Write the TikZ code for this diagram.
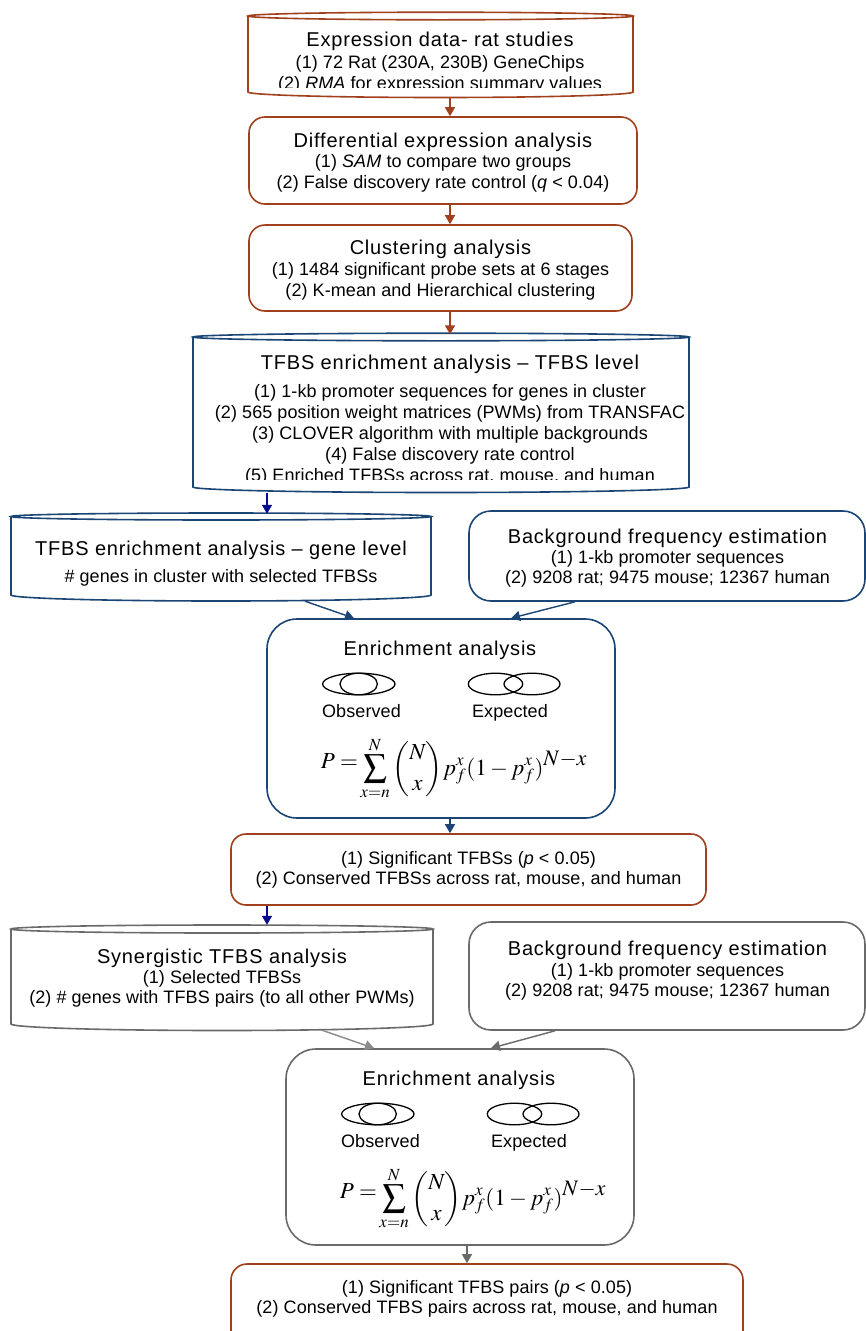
\documentclass[tikz,border=0pt]{standalone}
\usepackage{amsmath}
\usepackage{graphicx}
\usepackage{mathptmx}
\usepackage[no-math]{fontspec}
\setmainfont{Liberation Sans}
\newfontfamily\ttlfont[LetterSpace=4]{Liberation Sans}
\newfontfamily\bodyfont[LetterSpace=0.5]{Liberation Sans}
\DeclareMathSizes{23}{23}{17}{13}
\usetikzlibrary{arrows.meta,calc}
\definecolor{rust}{HTML}{A0401C}
\definecolor{steel}{HTML}{1B4574}
\definecolor{navyarr}{HTML}{0A0A8C}
\definecolor{grya}{HTML}{6A6A6A}
\definecolor{gryb}{HTML}{8A8A8A}
\newcommand{\cyl}[6]{%
 \pgfmathsetmacro\cyCx{(#3+#2)/2}\pgfmathsetmacro\cyRx{(#3-#2)/2}%
 \pgfmathsetmacro\cyKa{\cyCx-0.552*\cyRx}\pgfmathsetmacro\cyKb{\cyCx+0.552*\cyRx}%
 \pgfmathsetmacro\cyYd{#5+#6}\pgfmathsetmacro\cyYk{#5+0.552*#6}%
 \draw[#1, boxline] (#2,#4) -- (#2,#5) .. controls (#2,\cyYk) and (\cyKa,\cyYd) .. (\cyCx,\cyYd) .. controls (\cyKb,\cyYd) and (#3,\cyYk) .. (#3,#5) -- (#3,#4);
}
\newcommand{\lid}[5]{%
 \pgfmathsetmacro\cyCx{(#3+#2)/2}\pgfmathsetmacro\cyRx{(#3-#2)/2}%
 \draw[#1, boxline] (\cyCx,#4) ellipse [x radius=\cyRx, y radius=#5];
}
\newcommand{\enrichbox}[3]{%
 \begin{scope}[shift={(#2,#3)}]
  \node[ttl, anchor=base] (#1t) at (440,655) {Enrichment analysis};
  \draw[venn] (358.8,684) ellipse [x radius=36.2, y radius=10.8];
  \draw[venn] (358.7,684) ellipse [x radius=18.7, y radius=10.8];
  \draw[venn] (495.5,684) ellipse [x radius=27.2, y radius=10.8];
  \draw[venn] (532,684) ellipse [x radius=28, y radius=10.8];
  \node[body, anchor=base] (#1o) at (361.5,717) {Observed};
  \node[body, anchor=base] (#1e) at (510,717) {Expected};
  \node[inner sep=0, anchor=base, font=\fontsize{23}{27}\selectfont] (#1f) at (454,775)
   {$\displaystyle \raisebox{7pt}{$P=$}\sum_{x=n}^{N}\binom{N}{x}p_f^x(1-p_f^x)^{\scalebox{1.3}{$\scriptstyle N-x$}}$};
 \end{scope}}
\tikzset{
 boxline/.style={line width=1.6},
 rbox/.style={draw, line width=1.6, inner sep=0},
 ttl/.style={font=\ttlfont\fontsize{20}{24}\selectfont, inner sep=0},
 body/.style={font=\bodyfont\fontsize{18}{21}\selectfont, inner sep=0},
 venn/.style={draw=black, line width=1.3},
 arr/.style={-{Triangle[length=9,width=10]}, line width=1.4},
}
\begin{document}
\begin{tikzpicture}[x=1pt,y=-1pt]
\useasboundingbox (0,0) rectangle (866,1331);
\fill[white] (0,0) rectangle (866,1331);
\clip (0,0) rectangle (866,1331);

% ---- box 1 (cylinder)
\node[inner sep=0, minimum width=385, minimum height=86] (b1) at (440.5,55) {};
\cyl{rust}{248}{633}{16}{92}{5.5}
\lid{rust}{248}{633}{16}{3.8}
\begin{scope}
 \clip (240,20) rectangle (640,87.5);
 \node[ttl, anchor=base] (t1a) at (440,46) {Expression data- rat studies};
 \node[body, anchor=base] (t1b) at (440,68) {(1) 72 Rat (230A, 230B) GeneChips};
 \node[body, anchor=base] (t1c) at (440,89) {(2) \textit{RMA} for expression summary values};
\end{scope}

% ---- box 2
\node[rbox, draw=rust, rounded corners=16, minimum width=388, minimum height=87] (b2) at (443,160.5) {};
\node[ttl, anchor=base] (t2a) at (443,147) {Differential expression analysis};
\node[body, anchor=base] (t2b) at (443,167) {(1) \textit{SAM} to compare two groups};
\node[body, anchor=base] (t2c) at (443,188) {(2) False discovery rate control (\textit{q} < 0.04)};

% ---- box 3
\node[rbox, draw=rust, rounded corners=16, minimum width=383, minimum height=86] (b3) at (440.5,268) {};
\node[ttl, anchor=base] (t3a) at (440.5,254) {Clustering analysis};
\node[body, anchor=base] (t3b) at (440.5,275) {(1) 1484 significant probe sets at 6 stages};
\node[body, anchor=base] (t3c) at (440.5,296) {(2) K-mean and Hierarchical clustering};

% ---- box 4 (cylinder)
\node[inner sep=0, minimum width=496, minimum height=159] (b4) at (441,413) {};
\cyl{steel}{193}{689}{337}{487}{5.5}
\lid{steel}{193}{689}{337}{3.8}
\begin{scope}
 \clip (195,342) rectangle (687,479.5);
 \node[ttl, anchor=base] (t4a) at (450,369) {TFBS enrichment analysis – TFBS level};
 \node[body, anchor=base] (t4b) at (450,397) {(1) 1-kb promoter sequences for genes in cluster};
 \node[body, anchor=base] (t4c) at (450,418) {(2) 565 position weight matrices (PWMs) from TRANSFAC};
 \node[body, anchor=base] (t4d) at (450,439) {(3) CLOVER algorithm with multiple backgrounds};
 \node[body, anchor=base] (t4e) at (450,460) {(4) False discovery rate control};
 \node[body, anchor=base] (t4f) at (450,481) {(5) Enriched TFBSs across rat, mouse, and human};
\end{scope}

% ---- box 5 (cylinder)
\node[inner sep=0, minimum width=420, minimum height=87] (b5) at (221,557.5) {};
\cyl{steel}{11}{431}{516.5}{595}{6}
\lid{steel}{11}{431}{516.5}{3.5}
\node[ttl, anchor=base] (t5a) at (221,555) {TFBS enrichment analysis – gene level};
\node[body, anchor=base] (t5b) at (221,582) {\# genes in cluster with selected TFBSs};

% ---- box 6
\node[rbox, draw=steel, rounded corners=22, minimum width=396, minimum height=90] (b6) at (667,556) {};
\node[ttl, anchor=base] (t6a) at (667.5,543) {Background frequency estimation};
\node[body, anchor=base] (t6b) at (667.5,563) {(1) 1-kb promoter sequences};
\node[body, anchor=base] (t6c) at (667.5,583) {(2) 9208 rat; 9475 mouse; 12367 human};

% ---- box 7
\node[rbox, draw=steel, rounded corners=30, minimum width=348, minimum height=199] (b7) at (441,718.5) {};
\enrichbox{e7}{0}{0}

% ---- box 8
\node[rbox, draw=rust, rounded corners=15, minimum width=475, minimum height=71] (b8) at (468.5,869.5) {};
\node[body, anchor=base] (t8a) at (468.5,864) {(1) Significant TFBSs (\textit{p} < 0.05)};
\node[body, anchor=base] (t8b) at (468.5,884) {(2) Conserved TFBSs across rat, mouse, and human};

% ---- box 9 (cylinder)
\node[inner sep=0, minimum width=422, minimum height=105] (b9) at (222,977.5) {};
\cyl{grya}{11}{433}{929}{1024}{6.5}
\lid{grya}{11}{433}{929}{4}
\node[ttl, anchor=base] (t9a) at (222,963) {Synergistic TFBS analysis};
\node[body, anchor=base] (t9b) at (222,983) {(1) Selected TFBSs};
\node[body, anchor=base] (t9c) at (222,1003) {(2) \# genes with TFBS pairs (to all other PWMs)};

% ---- box 10
\node[rbox, draw=grya, rounded corners=22, minimum width=396, minimum height=108] (b10) at (667,976) {};
\node[ttl, anchor=base] (t10a) at (667.5,955) {Background frequency estimation};
\node[body, anchor=base] (t10b) at (667.5,976) {(1) 1-kb promoter sequences};
\node[body, anchor=base] (t10c) at (667.5,996) {(2) 9208 rat; 9475 mouse; 12367 human};

% ---- box 11
\node[rbox, draw=grya, rounded corners=30, minimum width=348, minimum height=196] (b11) at (460,1147) {};
\enrichbox{e11}{19}{430}

% ---- box 12
\node[rbox, draw=rust, rounded corners=16, minimum width=512, minimum height=84] (b12) at (487,1306) {};
\node[body, anchor=base] (t12a) at (487,1293) {(1) Significant TFBS pairs (\textit{p} < 0.05)};
\node[body, anchor=base] (t12b) at (487,1313) {(2) Conserved TFBS pairs across rat, mouse, and human};

% ---- connectors
\coordinate (xa) at (450,0);
\coordinate (xb) at (267,0);
\coordinate (xc) at (467,0);
\draw[arr, rust] (xa |- b1.south) -- (xa |- b2.north);
\draw[arr, rust] (xa |- b2.south) -- (xa |- b3.north);
\draw[arr, rust] (xa |- b3.south) -- ($(xa |- b4.north)+(0,1)$);
\draw[arr, navyarr] (xb |- b4.south) -- (xb |- b5.north);
\draw[arr, steel] ($(b5.south)+(84,0)$) -- ($(b7.north)+(-87,0)$);
\draw[arr, steel] ($(b6.south)+(-92,0)$) -- ($(b7.north)+(70,0)$);
\draw[arr, steel] (xa |- b7.south) -- (xa |- b8.north);
\draw[arr, navyarr] (xb |- b8.south) -- (xb |- b9.north);
\draw[arr, gryb] ($(b9.south)+(100,0)$) -- ($(b11.north)+(-86,0)$);
\draw[arr, grya] ($(b10.south)+(-112,0)$) -- ($(b11.north)+(31,0)$);
\draw[arr, grya] (xc |- b11.south) -- (xc |- b12.north);
\end{tikzpicture}
\end{document}
